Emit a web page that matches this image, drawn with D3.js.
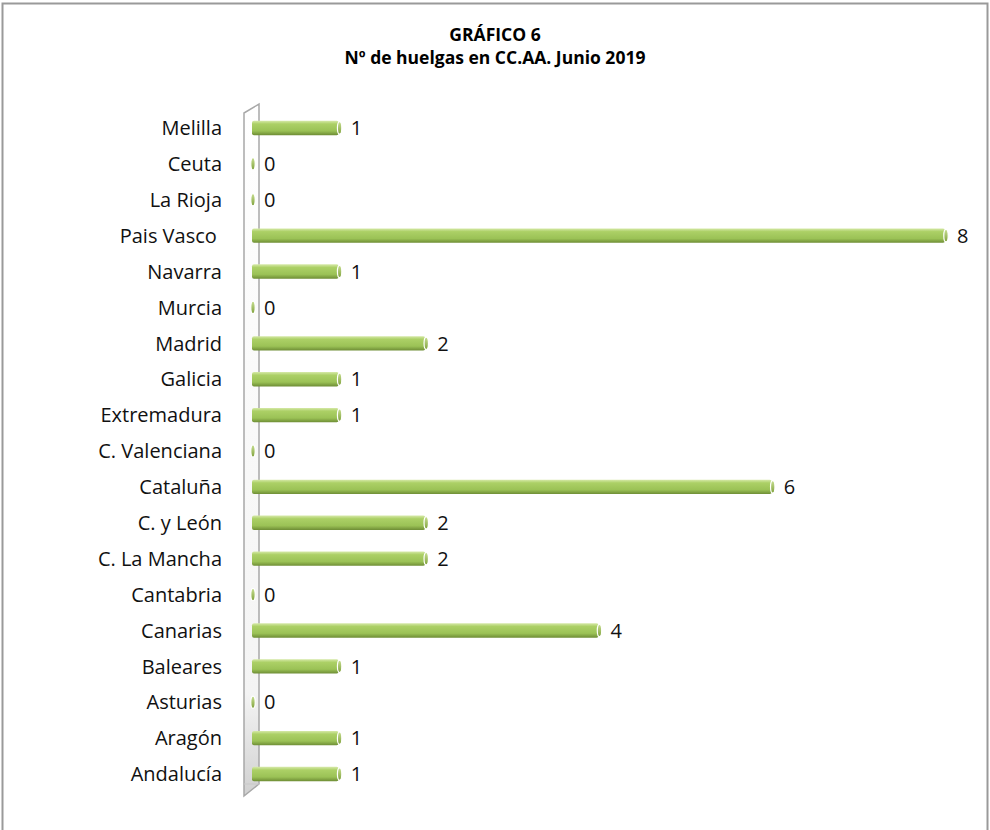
<!DOCTYPE html>
<html>
<head>
<meta charset="utf-8">
<script src="https://cdn.jsdelivr.net/npm/d3@7"></script>
<style>
  body { margin: 0; background: #fff; }
  text { font-family: "Open Sans", "Liberation Sans", sans-serif; white-space: pre; }
</style>
</head>
<body>
<div id="chart"></div>
<script>
// categories from top to bottom as in the picture
const regions = ["Melilla", "Ceuta", "La Rioja", "Pais Vasco ", "Navarra", "Murcia", "Madrid",
  "Galicia", "Extremadura", "C. Valenciana", "Cataluña", "C. y León", "C. La Mancha",
  "Cantabria", "Canarias", "Baleares", "Asturias", "Aragón", "Andalucía"];
const strikes = [1, 0, 0, 8, 1, 0, 2, 1, 1, 0, 6, 2, 2, 0, 4, 1, 0, 1, 1];
const titleLines = ["GRÁFICO 6", "Nº de huelgas en CC.AA. Junio 2019"];

const W = 990, H = 830;
const svg = d3.select("#chart").append("svg").attr("width", W).attr("height", H);

const defs = svg.append("defs");
const grad = defs.append("linearGradient").attr("id", "barGrad")
  .attr("x1", 0).attr("y1", 0).attr("x2", 0).attr("y2", 1);
grad.append("stop").attr("offset", "0%").attr("stop-color", "#d6e9a8");
grad.append("stop").attr("offset", "22%").attr("stop-color", "#acd066");
grad.append("stop").attr("offset", "70%").attr("stop-color", "#9bc256");
grad.append("stop").attr("offset", "100%").attr("stop-color", "#6e8d35");

const capGrad = defs.append("linearGradient").attr("id", "capGrad")
  .attr("x1", 0).attr("y1", 0).attr("x2", 0).attr("y2", 1);
capGrad.append("stop").attr("offset", "0%").attr("stop-color", "#c8df92");
capGrad.append("stop").attr("offset", "100%").attr("stop-color", "#80a23d");

const wallGrad = defs.append("linearGradient").attr("id", "wallGrad")
  .attr("x1", 0).attr("y1", 0).attr("x2", 0).attr("y2", 1);
wallGrad.append("stop").attr("offset", "0%").attr("stop-color", "#ffffff");
wallGrad.append("stop").attr("offset", "85%").attr("stop-color", "#f4f4f4");
wallGrad.append("stop").attr("offset", "100%").attr("stop-color", "#d0d0d0");

// outer frame
svg.append("rect").attr("x", 2.5).attr("y", 3.5).attr("width", 985).attr("height", 840)
  .attr("fill", "none").attr("stroke", "#9a9a9a").attr("stroke-width", 2);

// title
svg.append("text").attr("x", 495).attr("y", 41).attr("text-anchor", "middle")
  .attr("font-size", 17.5).attr("font-weight", "bold").text(titleLines[0]);
svg.append("text").attr("x", 495).attr("y", 64).attr("text-anchor", "middle")
  .attr("font-size", 17.5).attr("font-weight", "bold").text(titleLines[1]);

const x = d3.scaleLinear().domain([0, 8]).range([252, 945]);
const y = d3.scaleBand().domain(regions).range([110, 792]).paddingInner(0.6).paddingOuter(0.3);

// 3d side wall
svg.append("path")
  .attr("d", "M244,113 L259,104 L259,784 L244,796 Z")
  .attr("fill", "url(#wallGrad)").attr("stroke", "#a8a8a8").attr("stroke-width", 1.5);
svg.append("path").attr("d", "M244,784 L259,784")
  .attr("stroke", "#c8c8c8").attr("stroke-width", 1);

// category labels
svg.append("g").selectAll("text").data(regions).join("text")
  .attr("x", 222).attr("y", d => y(d) + y.bandwidth() / 2)
  .attr("dy", "0.36em").attr("text-anchor", "end").attr("font-size", 20)
  .attr("fill", "#111").text(d => d);

const bh = y.bandwidth();
const rows = svg.append("g").selectAll("g").data(regions).join("g");

rows.append("rect")
  .attr("x", x(0)).attr("y", d => y(d))
  .attr("width", (d, i) => Math.max(0, x(strikes[i]) - x(0)))
  .attr("height", bh).attr("rx", 2)
  .attr("fill", "url(#barGrad)");

// rounded end cap
rows.append("ellipse")
  .attr("cx", (d, i) => x(strikes[i]) + 1).attr("cy", d => y(d) + bh / 2)
  .attr("rx", 2.2).attr("ry", bh / 2 - 1)
  .attr("fill", "url(#capGrad)").attr("stroke", "#ffffff").attr("stroke-width", 1.2);

// value labels
rows.append("text")
  .attr("x", (d, i) => x(strikes[i]) + 12).attr("y", d => y(d) + bh / 2)
  .attr("dy", "0.36em").attr("font-size", 20).attr("fill", "#111")
  .text((d, i) => strikes[i]);
</script>
</body>
</html>
